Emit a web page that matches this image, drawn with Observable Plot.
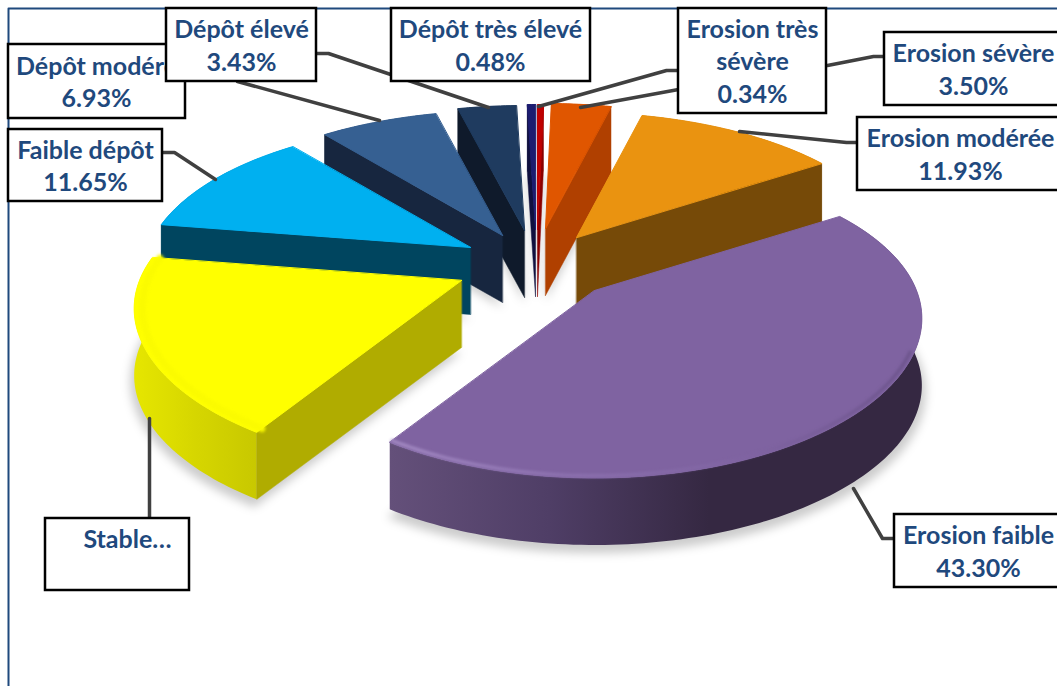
<!DOCTYPE html>
<html>
<head>
<meta charset="utf-8">
<script src="https://cdn.jsdelivr.net/npm/d3@7"></script>
<script src="https://cdn.jsdelivr.net/npm/@observablehq/plot@0.6"></script>
<style>
  html, body { margin: 0; padding: 0; background: #fff; }
  svg { display: block; }
</style>
</head>
<body>
<div id="chart"></div>
<script>
// Erosion and deposition classes, clockwise from twelve o'clock
const categories = ["Erosion très sévère", "Erosion sévère", "Erosion modérée", "Erosion faible", "Stable", "Faible dépôt", "Dépôt modéré", "Dépôt élevé", "Dépôt très élevé"];
const shares = [0.34, 3.50, 11.93, 43.30, 18.44, 11.65, 6.93, 3.43, 0.48];

// Slice colours: top face, radial wall, outer wall
const topColors = ["#c00000", "#e05600", "#ea9310", "#7f63a1", "#ffff00", "#00b0f0", "#366092", "#1f3b5f", "#1c1c70"];
const sideColors = ["#8a0000", "#b04000", "#764a08", "#4a3a60", "#b0ac00", "#00455f", "#17263f", "#0f1a2b", "#10103f"];
const rimColors = ["#8a0000", "#b04000", "#764a08", "url(#wallPurple)", "url(#wallYellow)", "#00455f", "#17263f", "#0f1a2b", "#10103f"];

// Where each exploded wedge has its tip, and which straight wall faces the viewer
const tipX = [537, 545, 576, 594, 461, 470, 502, 524, 535];
const tipY = [229, 228, 237, 290, 280, 247, 235, 230, 229];
const openWall = ["end", "end", "end", null, "start", "start", "start", "start", "start"];
const paintOrder = [7, 8, 0, 1, 2, 6, 5, 3, 4];

// Oblique view of the disc
const radiusX = 322, radiusY = 150, perspectiveX = 0.18, perspectiveY = 0.2, depth = 67;

const wedges = d3.pie().sort(null).value(d => d)(shares);

function project(i, angle, r = 1, drop = 0) {
  const u = Math.sin(angle), v = -Math.cos(angle);
  return {
    x: tipX[i] + radiusX * r * u / (1 - perspectiveX * v),
    y: tipY[i] + radiusY * r * v / (1 - perspectiveY * v) + drop
  };
}
function arc(i, r = 1, drop = 0) {
  const {startAngle: a0, endAngle: a1} = wedges[i];
  const n = Math.max(2, Math.ceil((a1 - a0) / 0.02));
  return d3.range(n + 1).map(k => project(i, a0 + (a1 - a0) * k / n, r, drop));
}
const tip = (i, drop = 0) => ({x: tipX[i], y: tipY[i] + drop});

const poly = (points, options) => Plot.line(points, {x: "x", y: "y", curve: "linear-closed", ...options});
const open = (points, options) => Plot.line(points, {x: "x", y: "y", fill: "none", ...options});

// Soft ground shadow under the wedges
const shadowMarks = paintOrder.map(i =>
  poly([tip(i, depth + 5), ...arc(i, 1.012, depth + 6)], {fill: "#000", fillOpacity: 0.2, stroke: "none", imageFilter: "blur(5px)"})
);

const wedgeMarks = paintOrder.flatMap(i => {
  const marks = [];
  const edge = arc(i);
  marks.push(poly([...edge, ...arc(i, 1, depth).reverse()], {fill: rimColors[i], stroke: "none"}));
  if (openWall[i]) {
    const corner = openWall[i] === "start" ? edge[0] : edge[edge.length - 1];
    marks.push(poly([tip(i), corner, {x: corner.x, y: corner.y + depth}, tip(i, depth)], {
      fill: sideColors[i], stroke: sideColors[i], strokeWidth: 0.5
    }));
  }
  marks.push(poly([tip(i), ...edge], {fill: topColors[i], stroke: topColors[i], strokeWidth: 1, strokeLinejoin: "round"}));
  // Bevel along the rounded rim of the two front wedges
  if (i === 3) marks.push(open(arc(i, 0.988).filter(p => p.y > tipY[i] + 60), {stroke: "url(#rimPurple)", strokeWidth: 3, imageFilter: "blur(1.5px)"}));
  if (i === 4) marks.push(open(arc(i, 0.975), {stroke: "#fbfb00", strokeWidth: 7, imageFilter: "blur(1.5px)"}));
  return marks;
});

// Leader lines from the boxes to the wedges
const leaders = [
  [[162, 152], [174, 152], [215, 179]],
  [[237, 81], [379, 120]],
  [[316, 53], [328, 53], [488, 107]],
  [[678, 70], [666, 70], [538, 106]],
  [[678, 89], [580, 107]],
  [[884, 56], [873, 56], [827, 65]],
  [[857, 142], [846, 142], [739, 131]],
  [[894, 538], [882, 538], [853, 488]],
  [[149, 518], [149, 418]]
];
const leaderMarks = leaders.map(points =>
  Plot.line(points, {x: d => d[0], y: d => d[1], stroke: "#404040", strokeWidth: 3.5, strokeLinejoin: "round"})
);

// Callout boxes, in stacking order; class index, wrapped name, box extent and text centre
const share = i => `${shares[i].toFixed(2)}%`;
const callouts = [
  {i: 6, lines: ["Dépôt modéré", share(6)], x1: 8, x2: 185, y1: 44, y2: 118, cx: 96},
  {i: 7, lines: ["Dépôt élevé", share(7)], x1: 166, x2: 316, y1: 8, y2: 81, cx: 241},
  {i: 8, lines: ["Dépôt très élevé", share(8)], x1: 391, x2: 590, y1: 8, y2: 81, cx: 490},
  {i: 0, lines: ["Erosion très", "sévère", share(0)], x1: 678, x2: 826, y1: 8, y2: 113, cx: 752},
  {i: 1, lines: ["Erosion sévère", share(1)], x1: 884, x2: 1062, y1: 32, y2: 105, cx: 973},
  {i: 2, lines: ["Erosion modérée", share(2)], x1: 857, x2: 1062, y1: 117, y2: 190, cx: 960},
  {i: 5, lines: ["Faible dépôt", share(5)], x1: 8, x2: 162, y1: 129, y2: 201, cx: 85},
  {i: 4, lines: ["Stable…", ""], x1: 45, x2: 189, y1: 518, y2: 590, cx: 127},
  {i: 3, lines: ["Erosion faible", share(3)], x1: 894, x2: 1062, y1: 514, y2: 587, cx: 978}
];
const calloutMarks = callouts.flatMap(c => [
  Plot.rect([c], {x1: "x1", x2: "x2", y1: "y1", y2: "y2", fill: "#fff", stroke: "#000", strokeWidth: 2.5}),
  Plot.text([c], {
    x: "cx", y: d => (d.y1 + d.y2) / 2 - 1, text: d => d.lines.join("\n"),
    fontFamily: "Lato", fontWeight: 700, fontSize: 25, lineHeight: 1.3, fill: "#1f497d", lineAnchor: "middle"
  })
]);

const gradientDefs = () => d3.create("svg:defs").html(`
  <linearGradient id="wallPurple" x1="0" x2="1" y1="0" y2="0">
    <stop offset="0" stop-color="#64507a"/><stop offset="0.3" stop-color="#4f3e66"/>
    <stop offset="0.6" stop-color="#352842"/><stop offset="1" stop-color="#352842"/>
  </linearGradient>
  <linearGradient id="wallYellow" x1="0" x2="1" y1="0" y2="0">
    <stop offset="0" stop-color="#e6e600"/><stop offset="0.5" stop-color="#d6d600"/><stop offset="1" stop-color="#c8c800"/>
  </linearGradient>
  <linearGradient id="rimPurple" x1="0" x2="1" y1="0" y2="0">
    <stop offset="0" stop-color="#a88fc8"/><stop offset="0.35" stop-color="#8d72b0"/>
    <stop offset="0.7" stop-color="#7f63a1"/><stop offset="1" stop-color="#6a5289"/>
  </linearGradient>`).node();

const frame = Plot.line([[1057, 8], [8, 8], [8, 686]], {x: d => d[0], y: d => d[1], stroke: "#1f497d", strokeWidth: 2});

const chart = Plot.plot({
  width: 1057,
  height: 686,
  margin: 0,
  style: {background: "#fff", overflow: "hidden"},
  x: {domain: [0, 1057], range: [0, 1057], axis: null},
  y: {domain: [0, 686], range: [0, 686], axis: null},
  marks: [gradientDefs, frame, ...shadowMarks, ...wedgeMarks, ...leaderMarks, ...calloutMarks]
});
document.getElementById("chart").append(chart);
</script>
</body>
</html>
